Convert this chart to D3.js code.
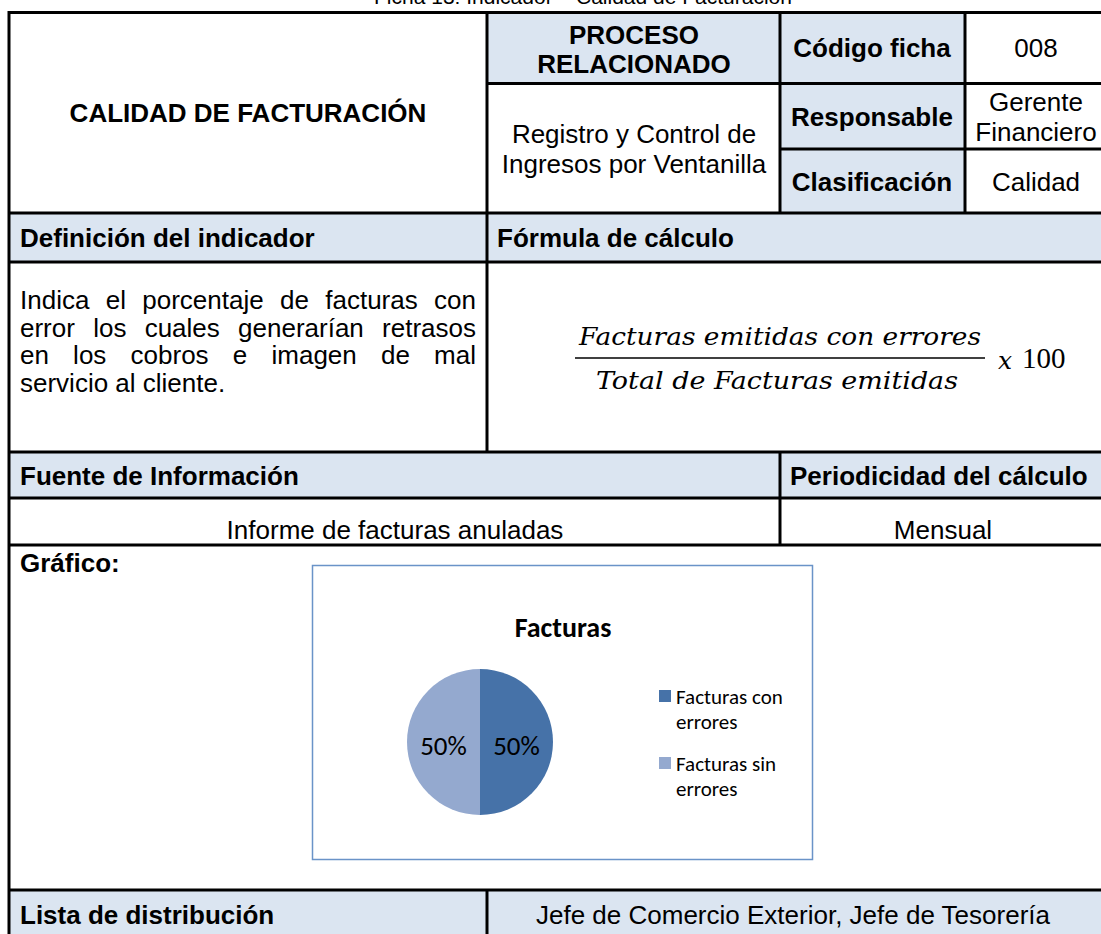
<!DOCTYPE html>
<html><head><meta charset="utf-8">
<script src="https://cdn.jsdelivr.net/npm/d3@7"></script>
<style>body{margin:0;background:#fff}svg{display:block}</style>
</head><body>
<svg id="c" width="1101" height="934"></svg>
<script>
// ---- data ----
const categories = ["Facturas con errores", "Facturas sin errores"];
const values = [50, 50];
const legendLines = [["Facturas con", "errores"], ["Facturas sin", "errores"]];
const chartTitle = "Facturas";
const caption = "Ficha 13: Indicador – Calidad de Facturación";
const definitionLines = ["Indica el porcentaje de facturas con", "error los cuales generarían retrasos", "en los cobros e imagen de mal", "servicio al cliente."];
const formulaNum = "Facturas emitidas con errores";
const formulaDen = "Total de Facturas emitidas";

const svg = d3.select("#c");
const HDR = "#dbe5f1";
const SANS = "'Liberation Sans', Arial, sans-serif";
const W = 1110;
const FS = 26;

// ---- header fills ----
const fills = [
  [487, 12, 293, 71], [780, 12, 185, 71], [780, 83, 185, 66], [780, 149, 185, 64],
  [9, 213, W, 49], [9, 452, W, 46], [9, 890, W, 50]
];
svg.selectAll("rect.f").data(fills).join("rect")
  .attr("x", d => d[0]).attr("y", d => d[1]).attr("width", d => d[2]).attr("height", d => d[3])
  .attr("fill", HDR);

// ---- grid lines ----
const hl = [[9, W, 12.5], [487, W, 83.5], [780, W, 149], [9, W, 213], [9, W, 262], [9, W, 452], [9, W, 498], [9, W, 545], [9, W, 890]];
const vl = [[9, 11, 940], [487, 11, 452], [487, 890, 940], [780, 11, 213], [780, 452, 545], [965, 11, 213]];
svg.selectAll("line.h").data(hl).join("line")
  .attr("x1", d => d[0]).attr("x2", d => d[1]).attr("y1", d => d[2]).attr("y2", d => d[2])
  .attr("stroke", "#000").attr("stroke-width", 3);
svg.selectAll("line.v").data(vl).join("line")
  .attr("x1", d => d[0]).attr("x2", d => d[0]).attr("y1", d => d[1]).attr("y2", d => d[2])
  .attr("stroke", "#000").attr("stroke-width", 3);

// ---- texts ----
function txt(x, y, s, opts = {}) {
  return svg.append("text").attr("x", x).attr("y", y).text(s)
    .attr("font-family", opts.family || SANS)
    .attr("font-size", opts.size || FS)
    .attr("font-weight", opts.bold ? "bold" : "normal")
    .attr("font-style", opts.italic ? "italic" : "normal")
    .attr("text-anchor", opts.anchor || "start")
    .attr("dominant-baseline", "central")
    .attr("fill", opts.fill || "#000");
}
txt(583, -4, caption, {size: 21, anchor: "middle"});
txt(248, 113, "CALIDAD DE FACTURACIÓN", {bold: true, anchor: "middle"});
txt(634, 35, "PROCESO", {bold: true, anchor: "middle"});
txt(634, 64, "RELACIONADO", {bold: true, anchor: "middle"});
txt(872, 48, "Código ficha", {bold: true, anchor: "middle"});
txt(1036, 48, "008", {anchor: "middle"});
txt(634, 134, "Registro y Control de", {anchor: "middle"});
txt(634, 164, "Ingresos por Ventanilla", {anchor: "middle"});
txt(872, 117, "Responsable", {bold: true, anchor: "middle"});
txt(1036, 102, "Gerente", {anchor: "middle"});
txt(1036, 132, "Financiero", {anchor: "middle"});
txt(872, 182, "Clasificación", {bold: true, anchor: "middle"});
txt(1036, 182, "Calidad", {anchor: "middle"});
txt(20, 238, "Definición del indicador", {bold: true});
txt(497, 238, "Fórmula de cálculo", {bold: true});
txt(20, 476, "Fuente de Información", {bold: true});
txt(790, 476, "Periodicidad del cálculo", {bold: true});
txt(395, 530, "Informe de facturas anuladas", {anchor: "middle"});
txt(943, 530, "Mensual", {anchor: "middle"});
txt(20, 563, "Gráfico:", {bold: true});
txt(20, 915, "Lista de distribución", {bold: true});
txt(793, 915, "Jefe de Comercio Exterior, Jefe de Tesorería", {anchor: "middle"});

// justified paragraph
const pL = 20, pR = 476;
definitionLines.forEach((line, i) => {
  const y = 300 + i * 27.7;
  const words = line.split(" ");
  if (i === definitionLines.length - 1) { txt(pL, y, line); return; }
  const nodes = words.map(w => txt(0, y, w));
  const widths = nodes.map(n => n.node().getComputedTextLength());
  const gap = (pR - pL - d3.sum(widths)) / (words.length - 1);
  let x = pL;
  nodes.forEach((n, k) => { n.attr("x", x); x += widths[k] + gap; });
});

// formula
const SERIF = "'DejaVu Serif', 'Liberation Serif', serif";
txt(780, 337, formulaNum, {family: SERIF, italic: true, size: 24, anchor: "middle"})
  .attr("textLength", 402).attr("lengthAdjust", "spacingAndGlyphs");
svg.append("line").attr("x1", 575).attr("x2", 985).attr("y1", 358).attr("y2", 358)
  .attr("stroke", "#000").attr("stroke-width", 1.5);
txt(777, 381, formulaDen, {family: SERIF, italic: true, size: 24, anchor: "middle"})
  .attr("textLength", 362).attr("lengthAdjust", "spacingAndGlyphs");
txt(998, 360, "x", {family: SERIF, italic: true, size: 25});
txt(1022, 358, "100", {family: "'Liberation Serif', serif", size: 29});

// ---- chart ----
const CAL = "Carlito, Lato, 'Open Sans', sans-serif";
svg.append("rect").attr("x", 312.5).attr("y", 565.5).attr("width", 500).attr("height", 294)
  .attr("fill", "#fff").attr("stroke", "#6a93c8").attr("stroke-width", 1.5);
txt(563, 627, chartTitle, {family: CAL, bold: true, size: 28, anchor: "middle"});

const color = d3.scaleOrdinal().domain(categories).range(["#4672a8", "#94a9cf"]);
const pie = d3.pie().sort(null).value(d => d.v);
const pdata = pie(categories.map((c, i) => ({c, v: values[i]})));
const R = 73, cx = 480, cy = 742;
const arc = d3.arc().innerRadius(0).outerRadius(R);
const g = svg.append("g").attr("transform", `translate(${cx},${cy})`);
g.selectAll("path").data(pdata).join("path").attr("d", arc).attr("fill", d => color(d.data.c));
const total = d3.sum(values);
const lArc = d3.arc().innerRadius(R * 0.5).outerRadius(R * 0.5);
g.selectAll("text").data(pdata).join("text")
  .attr("transform", d => { const [x, y] = lArc.centroid(d); return `translate(${x},${y + 3})`; })
  .attr("text-anchor", "middle").attr("dominant-baseline", "central")
  .attr("font-family", CAL).attr("font-size", 27).attr("fill", "#000")
  .text(d => Math.round(d.data.v / total * 100) + "%");

// legend
const lg = svg.append("g");
categories.forEach((c, i) => {
  const y0 = 690 + i * 67;
  lg.append("rect").attr("x", 659).attr("y", y0).attr("width", 12).attr("height", 12).attr("fill", color(c));
  legendLines[i].forEach((t, k) => {
    txt(676, y0 + 7 + k * 25, t, {family: CAL, size: 21});
  });
});
</script>
</body></html>
